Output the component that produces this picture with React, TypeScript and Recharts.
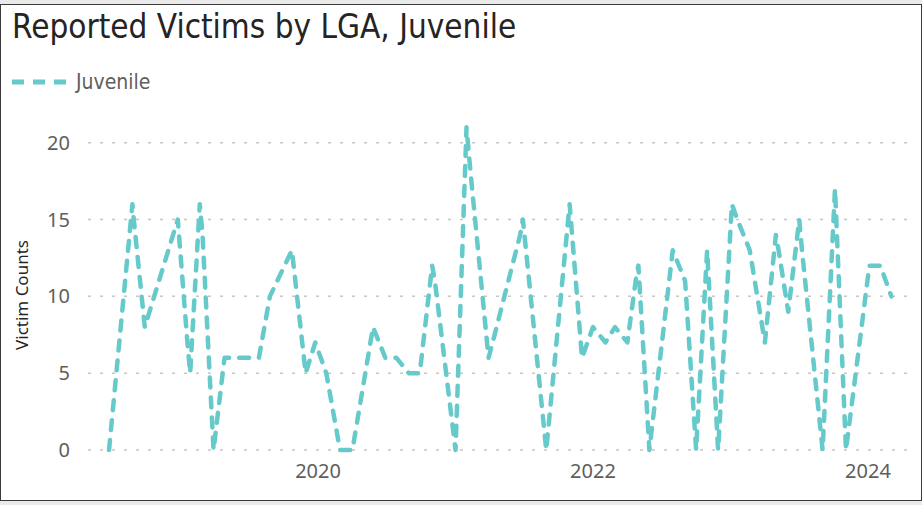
import { CartesianGrid, Line, LineChart, XAxis, YAxis } from "recharts";

const TEAL = "#66CACA";

// decimal year of each report point
const years = [
  2018.48, 2018.65, 2018.66, 2018.74, 2018.98, 2019.05, 2019.07, 2019.14, 2019.16, 2019.24,
  2019.32, 2019.57, 2019.65, 2019.81, 2019.91, 2019.98, 2020.06, 2020.16, 2020.25, 2020.4,
  2020.49, 2020.57, 2020.66, 2020.74, 2020.83, 2020.85, 2021.0, 2021.08, 2021.11, 2021.24,
  2021.27, 2021.47, 2021.49, 2021.66, 2021.83, 2021.92, 2022.0, 2022.09, 2022.16, 2022.25,
  2022.31, 2022.33, 2022.41, 2022.58, 2022.67, 2022.75, 2022.83, 2022.91, 2023.01, 2023.05,
  2023.14, 2023.25, 2023.33, 2023.35, 2023.42, 2023.5, 2023.52, 2023.67, 2023.76, 2023.84,
  2024.01, 2024.09, 2024.17,
];

const juvenile = [
  0, 16, 15, 8, 15, 7, 5, 16, 14, 0,
  6, 6, 10, 13, 5, 7, 5, 0, 0, 8,
  6, 6, 5, 5, 12, 11, 0, 21, 18, 6,
  7, 14, 15, 0, 16, 6, 8, 7, 8, 7,
  11, 12, 0, 13, 11, 0, 13, 0, 16, 15,
  13, 7, 14, 13, 9, 15, 13, 0, 17, 0,
  12, 12, 10,
];

const yTicks = [0, 5, 10, 15, 20];
const xTicks = [2020, 2022, 2024];

const data = years.map((t, i) => ({ t, juvenile: juvenile[i] }));

const tickStyle = { fill: "#605E5C", fontSize: 20, fontFamily: "'Noto Sans', sans-serif" };

export default function App() {
  return (
    <div
      style={{
        position: "absolute",
        left: 0,
        top: 0,
        width: 922,
        height: 505,
        background: "#EAEAEA",
        overflow: "hidden",
      }}
    >
      <div
        style={{
          position: "absolute",
          left: 0,
          top: 4,
          width: 920,
          height: 495,
          background: "#fff",
          border: "1px solid #3B3B3B",
        }}
      />
      <div
        style={{
          position: "absolute",
          left: 12,
          top: 10,
          fontFamily: "'DejaVu Sans Condensed', 'DejaVu Sans', sans-serif",
          fontSize: 33,
          lineHeight: 1,
          color: "#252423",
          whiteSpace: "nowrap",
        }}
      >
        Reported Victims by LGA, Juvenile
      </div>
      <div style={{ position: "absolute", left: 10, top: 70, display: "flex", alignItems: "center" }}>
        <svg width={64} height={24}>
          <line x1={2} y1={12} x2={62} y2={12} stroke={TEAL} strokeWidth={5} strokeDasharray="12 9" />
        </svg>
        <span
          style={{
            fontFamily: "'DejaVu Sans Condensed', 'DejaVu Sans', sans-serif",
            fontSize: 21,
            color: "#605E5C",
            marginLeft: 2,
          }}
        >
          Juvenile
        </span>
      </div>
      <div
        style={{
          position: "absolute",
          left: 21,
          top: 295,
          transform: "translate(-50%, -50%) rotate(-90deg)",
          fontFamily: "'Noto Sans', sans-serif",
          fontSize: 17,
          color: "#252423",
          whiteSpace: "nowrap",
        }}
      >
        Victim Counts
      </div>
      <LineChart
        width={922}
        height={505}
        data={data}
        margin={{ top: 112, right: 14, bottom: 0, left: 0 }}
        style={{ position: "absolute", left: 0, top: 0 }}
      >
        <CartesianGrid
          vertical={false}
          horizontalValues={yTicks}
          stroke="#C8C6C4"
          strokeDasharray="3 9"
          strokeWidth={1.5}
        />
        <XAxis
          dataKey="t"
          type="number"
          domain={[2018.327, 2024.291]}
          ticks={xTicks}
          allowDataOverflow
          axisLine={false}
          tickLine={false}
          tickMargin={8}
          height={55}
          tick={tickStyle}
        />
        <YAxis
          type="number"
          domain={[0, 22]}
          ticks={yTicks}
          axisLine={false}
          tickLine={false}
          tickMargin={12}
          width={88}
          tick={tickStyle}
        />
        <Line
          type="linear"
          dataKey="juvenile"
          name="Juvenile"
          stroke={TEAL}
          strokeWidth={4.5}
          strokeDasharray="10 10"
          strokeLinecap="round"
          strokeLinejoin="round"
          dot={false}
          activeDot={false}
          isAnimationActive={false}
        />
      </LineChart>
    </div>
  );
}
